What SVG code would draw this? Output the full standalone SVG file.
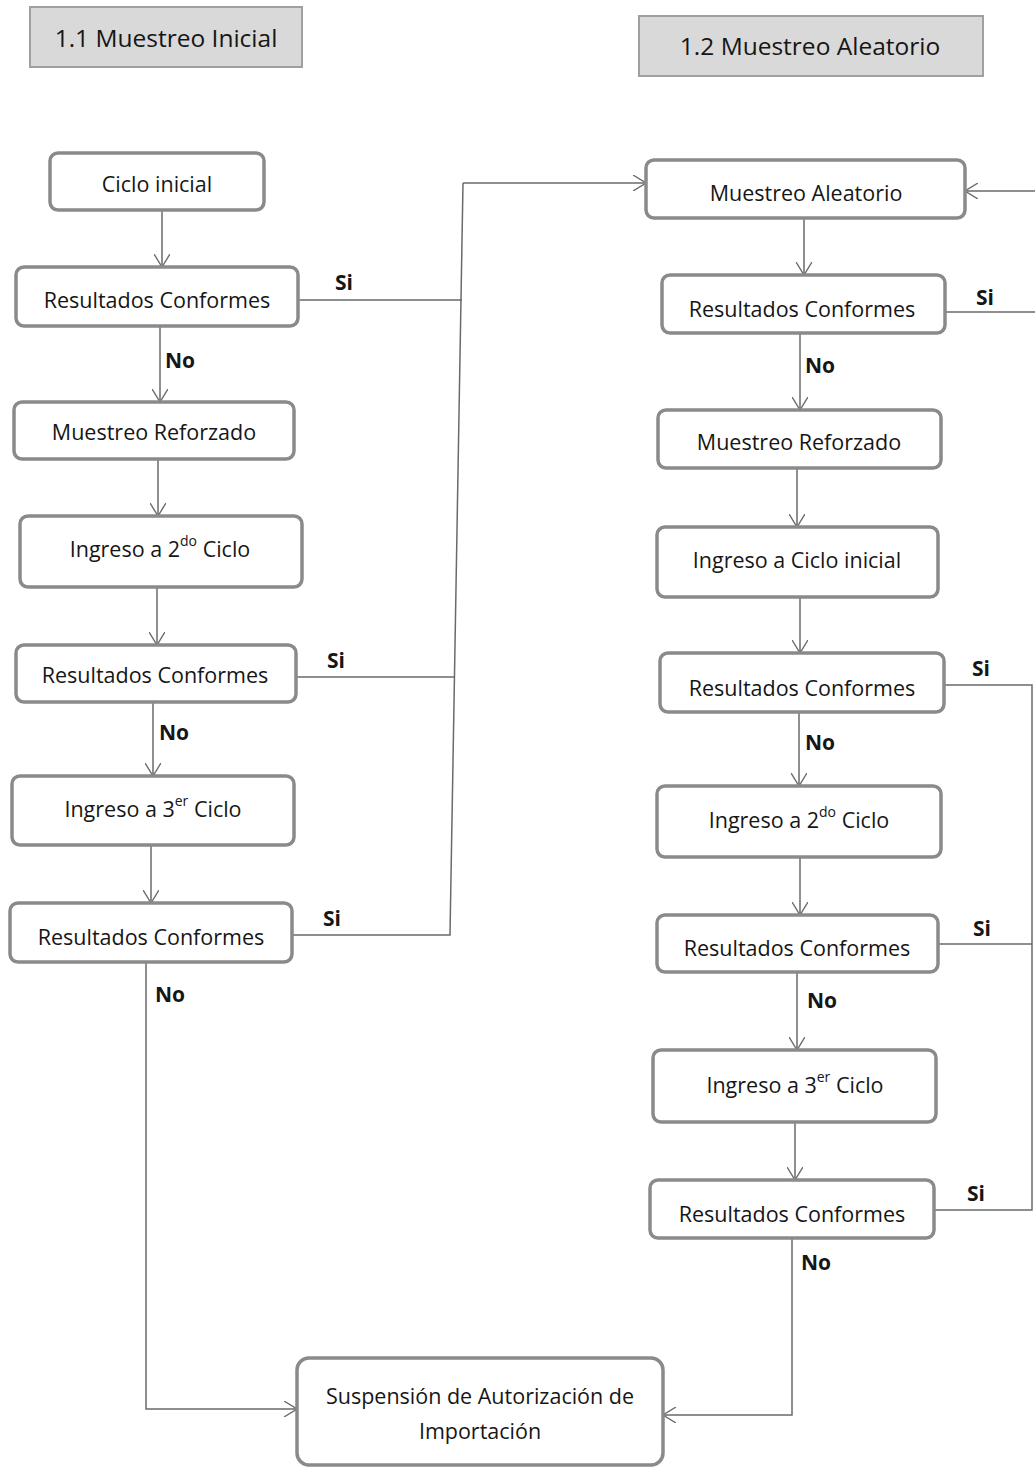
<svg xmlns="http://www.w3.org/2000/svg" width="1035" height="1468" viewBox="0 0 1035 1468">
<defs>
<marker id="arr" viewBox="0 0 14 16" refX="13" refY="8" markerWidth="14" markerHeight="16" markerUnits="userSpaceOnUse" orient="auto">
<path d="M0,0 L13,8 L0,16" fill="none" stroke="#6a6a6a" stroke-width="1.4"/>
</marker>
<style>
.box{fill:#ffffff;stroke:#8a8a8a;stroke-width:3.5}
.title{fill:#d9d9d9;stroke:#a0a0a0;stroke-width:2}
.t{font-family:"Open Sans","Liberation Sans",sans-serif;font-size:21.5px;fill:#161616;text-anchor:middle;dominant-baseline:central}
.tt{font-family:"Open Sans","Liberation Sans",sans-serif;font-size:24.5px;fill:#161616;text-anchor:middle;dominant-baseline:central}
.lb{font-family:"Open Sans","Liberation Sans",sans-serif;font-size:21px;font-weight:bold;fill:#161616;dominant-baseline:central}
.c{fill:none;stroke:#6a6a6a;stroke-width:1.5}
.a{marker-end:url(#arr)}
.sup{font-size:14px}
</style>
</defs>
<rect width="1035" height="1468" fill="#ffffff"/>

<g id="title-11"><rect class="title" x="30" y="7" width="272" height="60"/><text class="tt" x="166" y="37">1.1 Muestreo Inicial</text></g>
<g id="title-12"><rect class="title" x="639" y="16" width="344" height="60"/><text class="tt" x="810" y="45">1.2 Muestreo Aleatorio</text></g>

<g id="connectors">
<!-- left column -->
<path class="c a" d="M162,210 V267"/>
<path class="c a" d="M160,326 V402"/>
<path class="c a" d="M158,459 V516"/>
<path class="c a" d="M157,587 V645"/>
<path class="c a" d="M153,702 V776"/>
<path class="c a" d="M151,845 V903"/>
<path class="c a" d="M146,962 V1409 H297"/>
<path class="c" d="M298,300 H462"/>
<path class="c" d="M296,677 H455"/>
<path class="c" d="M292,935 H450 L463,183"/>
<path class="c a" d="M463,183 H646"/>
<!-- right column -->
<path class="c a" d="M804,218 V275"/>
<path class="c a" d="M800,333 V410"/>
<path class="c a" d="M797,468 V527"/>
<path class="c a" d="M800,597 V653"/>
<path class="c a" d="M799,712 V786"/>
<path class="c a" d="M800,857 V915"/>
<path class="c a" d="M797,972 V1050"/>
<path class="c a" d="M795,1122 V1180"/>
<path class="c a" d="M792,1238 V1415 H663"/>
<path class="c" d="M945,312 H1035"/>
<path class="c a" d="M1035,191 H965"/>
<path class="c" d="M944,685 H1032 V1210 H934"/>
<path class="c" d="M938,944 H1032"/>
</g>

<g id="labels">
<text class="lb" x="335" y="282">Si</text>
<text class="lb" x="327" y="660">Si</text>
<text class="lb" x="323" y="918">Si</text>
<text class="lb" x="165" y="360">No</text>
<text class="lb" x="159" y="732">No</text>
<text class="lb" x="155" y="994">No</text>
<text class="lb" x="976" y="297">Si</text>
<text class="lb" x="972" y="668">Si</text>
<text class="lb" x="973" y="928">Si</text>
<text class="lb" x="967" y="1193">Si</text>
<text class="lb" x="805" y="365">No</text>
<text class="lb" x="805" y="742">No</text>
<text class="lb" x="807" y="1000">No</text>
<text class="lb" x="801" y="1262">No</text>
</g>

<g id="l-ciclo-inicial"><rect class="box" x="50" y="153" width="214" height="57" rx="8"/><text class="t" x="157" y="183">Ciclo inicial</text></g>
<g id="l-rc1"><rect class="box" x="16" y="267" width="282" height="59" rx="8"/><text class="t" x="157" y="299">Resultados Conformes</text></g>
<g id="l-reforzado"><rect class="box" x="14" y="402" width="280" height="57" rx="8"/><text class="t" x="154" y="431">Muestreo Reforzado</text></g>
<g id="l-ciclo2"><rect class="box" x="20" y="516" width="282" height="71" rx="8"/><text class="t" x="160" y="548">Ingreso a 2<tspan class="sup" dy="-8">do</tspan><tspan dy="8"> Ciclo</tspan></text></g>
<g id="l-rc2"><rect class="box" x="16" y="645" width="280" height="57" rx="8"/><text class="t" x="155" y="674">Resultados Conformes</text></g>
<g id="l-ciclo3"><rect class="box" x="12" y="776" width="282" height="69" rx="8"/><text class="t" x="153" y="808">Ingreso a 3<tspan class="sup" dy="-8">er</tspan><tspan dy="8"> Ciclo</tspan></text></g>
<g id="l-rc3"><rect class="box" x="10" y="903" width="282" height="59" rx="8"/><text class="t" x="151" y="936">Resultados Conformes</text></g>

<g id="r-aleatorio"><rect class="box" x="646" y="160" width="319" height="58" rx="8"/><text class="t" x="806" y="192">Muestreo Aleatorio</text></g>
<g id="r-rc1"><rect class="box" x="662" y="275" width="283" height="58" rx="8"/><text class="t" x="802" y="308">Resultados Conformes</text></g>
<g id="r-reforzado"><rect class="box" x="658" y="410" width="283" height="58" rx="8"/><text class="t" x="799" y="441">Muestreo Reforzado</text></g>
<g id="r-ciclo-inicial"><rect class="box" x="657" y="527" width="281" height="70" rx="8"/><text class="t" x="797" y="559">Ingreso a Ciclo inicial</text></g>
<g id="r-rc2"><rect class="box" x="660" y="653" width="284" height="59" rx="8"/><text class="t" x="802" y="687">Resultados Conformes</text></g>
<g id="r-ciclo2"><rect class="box" x="657" y="786" width="284" height="71" rx="8"/><text class="t" x="799" y="819">Ingreso a 2<tspan class="sup" dy="-8">do</tspan><tspan dy="8"> Ciclo</tspan></text></g>
<g id="r-rc3"><rect class="box" x="657" y="915" width="281" height="57" rx="8"/><text class="t" x="797" y="947">Resultados Conformes</text></g>
<g id="r-ciclo3"><rect class="box" x="653" y="1050" width="283" height="72" rx="8"/><text class="t" x="795" y="1084">Ingreso a 3<tspan class="sup" dy="-8">er</tspan><tspan dy="8"> Ciclo</tspan></text></g>
<g id="r-rc4"><rect class="box" x="650" y="1180" width="284" height="58" rx="8"/><text class="t" x="792" y="1213">Resultados Conformes</text></g>

<g id="suspension"><rect class="box" x="297" y="1358" width="366" height="107" rx="12"/><text class="t" x="480" y="1395">Suspensión de Autorización de</text><text class="t" x="480" y="1430">Importación</text></g>
</svg>
